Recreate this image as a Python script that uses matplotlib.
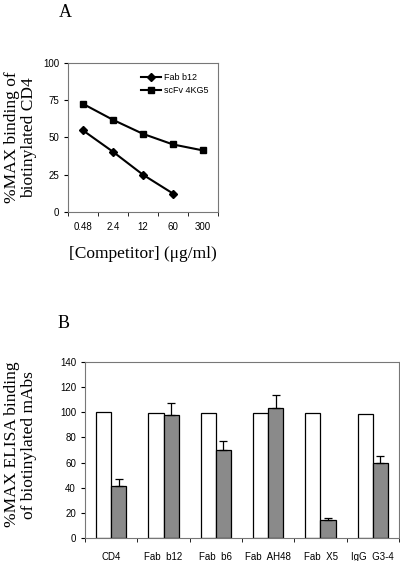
import matplotlib
matplotlib.use("Agg")
import matplotlib.pyplot as plt
import numpy as np

# panel A data
conc_labels = ["0.48", "2.4", "12", "60", "300"]
fab_b12 = [54.7, 40.4, 25.0, 12.4]
scfv_4kg5 = [72.5, 61.8, 52.4, 45.3, 41.3]

# panel B data
mabs = ["CD4", "Fab  b12", "Fab  b6", "Fab  AH48", "Fab  X5", "IgG  G3-4"]
control = [100, 99.6, 99.3, 99.2, 99.0, 98.8]
competed = [41.7, 97.5, 70.3, 103.5, 14.5, 59.4]
competed_err = [5.0, 10.0, 7.0, 10.0, 1.3, 5.5]

serif = "Liberation Serif"
sans = "Liberation Sans"
plt.rcParams["font.family"] = sans

fig = plt.figure(figsize=(4, 5.61), dpi=100)

# ---- panel A
ax1 = fig.add_axes([0.17, 0.622, 0.375, 0.266])
x1 = np.arange(len(conc_labels))
ax1.plot(x1[:len(fab_b12)], fab_b12, color="black", lw=1.5, marker="D", ms=4.5, label="Fab b12")
ax1.plot(x1, scfv_4kg5, color="black", lw=1.5, marker="s", ms=4.5, label="scFv 4KG5")
ax1.set_xlim(-0.5, len(conc_labels) - 0.5)
ax1.set_ylim(0, 100)
ax1.set_yticks([0, 25, 50, 75, 100])
ax1.set_xticks(x1)
ax1.set_xticklabels(conc_labels)
ax1.set_xticks(np.arange(-0.5, len(conc_labels)), minor=True)
ax1.tick_params(axis="x", which="major", length=0, labelsize=7, pad=7)
ax1.tick_params(axis="x", which="minor", length=3, direction="out")
ax1.tick_params(axis="y", labelsize=7, length=3)
for s in ax1.spines.values():
    s.set_color("#777777")
    s.set_linewidth(0.8)
ax1.legend(loc="upper right", frameon=False, fontsize=6.5, handlelength=2.2,
           borderaxespad=0.7, labelspacing=0.5, handletextpad=0.3)
ax1.set_ylabel("%MAX binding of\nbiotinylated CD4", family=serif, fontsize=12.5,
               linespacing=1.1)
ax1.yaxis.set_label_coords(-0.207, 0.5)
ax1.set_xlabel("[Competitor] (\u03bcg/ml)", family=serif, fontsize=12.5, labelpad=10)
fig.text(0.163, 0.978, "A", family=serif, fontsize=13, ha="center", va="center")

# ---- panel B
ax2 = fig.add_axes([0.2125, 0.041, 0.785, 0.314])
x2 = np.arange(len(mabs))
w = 0.29
ax2.bar(x2 - w / 2, control, width=w, color="white", edgecolor="black", lw=0.9)
ax2.bar(x2 + w / 2, competed, width=w, color="#8a8a8a", edgecolor="black", lw=0.9,
        yerr=[np.zeros(len(competed_err)), competed_err],
        error_kw=dict(ecolor="black", elinewidth=0.9, capsize=3, capthick=0.9))
ax2.set_xlim(-0.5, len(mabs) - 0.5)
ax2.set_ylim(0, 140)
ax2.set_yticks(np.arange(0, 141, 20))
ax2.set_xticks(x2)
ax2.set_xticklabels(mabs)
ax2.set_xticks(np.arange(-0.5, len(mabs)), minor=True)
ax2.tick_params(axis="x", which="major", length=0, labelsize=7, pad=10)
ax2.tick_params(axis="x", which="minor", length=3, direction="out")
ax2.tick_params(axis="y", labelsize=7, length=3)
for s in ax2.spines.values():
    s.set_color("#777777")
    s.set_linewidth(0.8)
ax2.set_ylabel("%MAX ELISA binding\nof biotinylated mAbs", family=serif, fontsize=12.5,
               linespacing=1.1)
ax2.yaxis.set_label_coords(-0.153, 0.53)
fig.text(0.158, 0.424, "B", family=serif, fontsize=13, ha="center", va="center")

fig.savefig("out.png", dpi=100)
